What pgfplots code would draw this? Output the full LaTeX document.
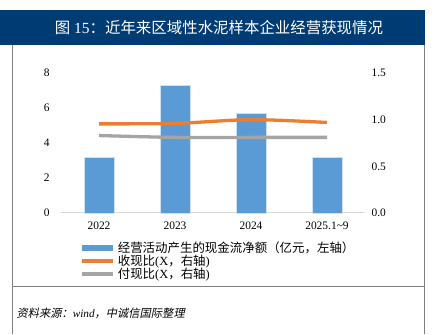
\documentclass[border=0pt]{standalone}
\usepackage{pgfplots}
\pgfplotsset{compat=1.18}
\usepackage{fontspec}
\setmainfont{Liberation Serif}
\newfontfamily\cjk{Noto Sans CJK SC}
\newfontfamily\cjkit[FakeSlant=0.2]{Noto Sans CJK SC}
\definecolor{titleblue}{HTML}{003C74}
\definecolor{barblue}{HTML}{5B9BD5}
\definecolor{lorange}{HTML}{ED7D31}
\definecolor{lgray}{HTML}{A5A5A5}
\definecolor{axgray}{HTML}{D9D9D9}
\definecolor{bordergray}{HTML}{808080}
\begin{document}
\begin{tikzpicture}
\path (0bp,0bp) rectangle (435bp,334bp);
\fill[titleblue] (0bp,288.5bp) rectangle (425bp,324bp);
\draw[bordergray,line width=1bp] (12bp,0bp) -- (12bp,288.5bp);
\draw[bordergray,line width=1bp] (424bp,0bp) -- (424bp,288.5bp);
\draw[bordergray,line width=1bp] (12bp,47bp) -- (424bp,47bp);
\node[white,font=\fontsize{15.5}{17}\selectfont] at (219bp,306bp) {{\cjk 图} 15{\cjk ：近年来区域性水泥样本企业经营获现情况}};
\node[anchor=west,font=\fontsize{11.3}{12}\selectfont\itshape] at (13bp,21bp) {{\cjkit 资料来源：}wind{\cjkit ，中诚信国际整理}};

\begin{axis}[
  at={(61bp,121bp)}, anchor=south west,
  scale only axis, width=304bp, height=140bp,
  xmin=-0.5, xmax=3.5, ymin=0, ymax=8,
  xtick={0,1,2,3}, xticklabels={2022,2023,2024,2025.1\textasciitilde 9},
  ytick={0,2,4,6,8},
  axis x line*=bottom, axis y line*=left,
  y axis line style={draw=none},
  x axis line style={draw=axgray,line width=1bp},
  major tick length=0pt,
  tick label style={font=\fontsize{11.5}{13}\selectfont},
  xticklabel style={yshift=-5bp},
  yticklabel style={xshift=-8bp},
  /pgf/number format/assume math mode=true,
  clip=false,
]
\addplot[ybar, bar width=30bp, fill=barblue, draw=white!70!barblue] coordinates {(0,3.2) (1,7.3) (2,5.7) (3,3.2)};
\end{axis}

\begin{axis}[
  at={(61bp,121bp)}, anchor=south west,
  scale only axis, width=304bp, height=140bp,
  xmin=-0.5, xmax=3.5, ymin=0, ymax=1.5,
  ytick={0,0.5,1,1.5},
  yticklabel style={xshift=3bp, /pgf/number format/fixed, /pgf/number format/fixed zerofill, /pgf/number format/precision=1},
  axis y line*=right, axis x line=none,
  y axis line style={draw=none},
  major tick length=0pt,
  tick label style={font=\fontsize{11.5}{13}\selectfont},
  /pgf/number format/assume math mode=true,
  legend style={at={(0.058,-0.19)}, anchor=north west, draw=none, fill=none,
    font=\fontsize{12.5}{12.5}\selectfont, inner sep=0pt, row sep=-3bp,
    /tikz/every even column/.append style={column sep=0pt}},
  legend cell align=left,
  legend image code/.code={\draw[#1] (0bp,0bp) -- (31bp,0bp);},
]
\addlegendimage{line width=6bp, barblue}
\addlegendentry{\cjk 经营活动产生的现金流净额（亿元，左轴）}
\addplot[lorange, line width=3.3bp, smooth, tension=0.5] coordinates {(0,0.955) (1,0.96) (2,1.0) (3,0.97)};
\addlegendentry{{\cjk 收现比}(X{\cjk ，右轴})}
\addplot[lgray, line width=3.3bp, smooth, tension=0.5] coordinates {(0,0.83) (1,0.81) (2,0.81) (3,0.81)};
\addlegendentry{{\cjk 付现比}(X{\cjk ，右轴})}
\end{axis}
\end{tikzpicture}
\end{document}
